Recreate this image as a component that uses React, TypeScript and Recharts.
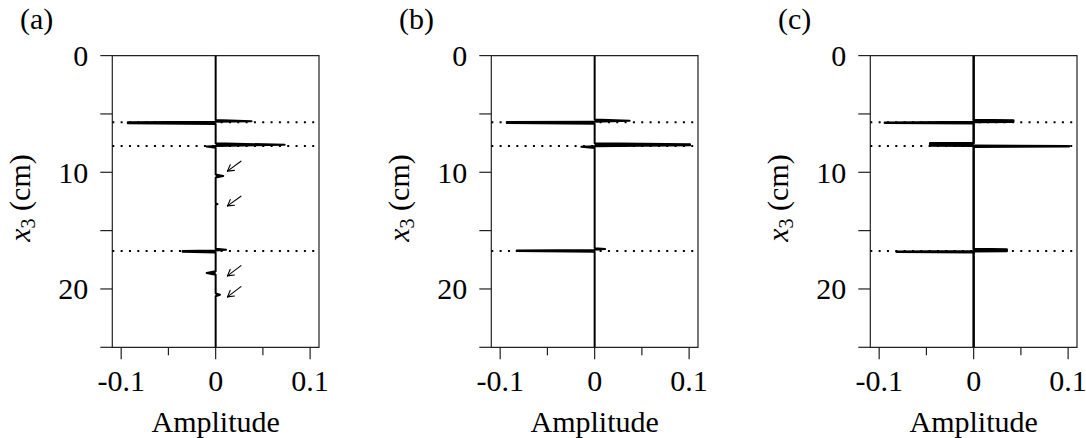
import React from 'react';
import { ComposedChart, Area, XAxis, YAxis, ReferenceLine, ReferenceArea } from 'recharts';

// ---------- data ----------
const panelLetters = ['(a)', '(b)', '(c)'];

// panel (a): depth (cm) and amplitude samples of the trace
const depthA = [0, 5.52, 5.62, 5.68, 5.72, 5.80, 5.86, 7.52, 7.64, 7.74, 7.80, 7.90, 10.18, 10.32, 10.46, 12.66, 12.73, 12.80, 16.55, 16.64, 16.70, 16.74, 16.82, 16.88, 18.48, 18.63, 18.78, 20.38, 20.50, 20.62, 25];
const ampA = [0, 0, 0.038, 0, -0.093, -0.093, 0, 0, 0.073, 0, -0.0095, 0, 0, 0.008, 0, 0, 0.002, 0, 0, 0.011, 0, -0.035, -0.035, 0, 0, -0.0095, 0, 0, 0.0045, 0, 0];

// panel (b)
const depthB = [0, 5.48, 5.58, 5.66, 5.70, 5.78, 5.84, 7.52, 7.60, 7.68, 7.76, 7.82, 7.92, 16.50, 16.58, 16.64, 16.66, 16.71, 16.75, 16.82, 25];
const ampB = [0, 0, 0.037, 0, -0.093, -0.093, 0, 0, 0.101, 0.101, 0, -0.014, 0, 0, 0.011, 0, 0, -0.0825, -0.0825, 0, 0];

// panel (c)
const depthC = [0, 5.52, 5.56, 5.68, 5.70, 5.75, 5.80, 7.48, 7.52, 7.70, 7.72, 7.77, 7.82, 16.58, 16.62, 16.74, 16.76, 16.81, 16.86, 25];
const ampC = [0, 0, 0.042, 0.042, 0, -0.094, 0, 0, -0.046, -0.046, 0, 0.101, 0, 0, 0.035, 0.035, 0, -0.0815, 0, 0];

// interface depths (dotted lines)
const reflectorDepths = [5.72, 7.74, 16.74];

// arrows in panel (a)
const arrowTailAmp = [0.0268, 0.0268, 0.0268, 0.0268];
const arrowTailDepth = [9.05, 12.05, 18.0, 19.8];
const arrowHeadAmp = [0.0125, 0.0125, 0.0125, 0.0125];
const arrowHeadDepth = [9.9, 12.88, 18.88, 20.68];

// axes
const xTicks = [-0.1, -0.05, 0, 0.05, 0.1];
const xTickLabels = ['-0.1', '', '0', '', '0.1'];
const yTicks = [0, 5, 10, 15, 20, 25];
const yTickLabels = ['0', '', '10', '', '20', ''];
const X_DOMAIN: [number, number] = [-0.1094, 0.1094];
const Y_DOMAIN: [number, number] = [0, 25];

const FONT = 'Liberation Serif';
const FONT_SIZE = 30;
const PANEL_STEP = 379;
const AXIS_COLOR = '#222';

// ---------- components ----------
const XTick = (props: any) => {
  const { x, y, payload } = props;
  const i = xTicks.findIndex((t) => Math.abs(t - payload.value) < 1e-9);
  const label = i >= 0 ? xTickLabels[i] : '';
  const minor = label === '';
  return (
    <g>
      <line x1={x} x2={x} y1={y} y2={y + (minor ? 8 : 12)} stroke={AXIS_COLOR} strokeWidth={1.2} />
      {!minor && (
        <text x={x} y={y + 43.5} textAnchor="middle" fontFamily={FONT} fontSize={FONT_SIZE} fill="#000">
          {label}
        </text>
      )}
    </g>
  );
};

const YTick = (props: any) => {
  const { x, y, payload } = props;
  const i = yTicks.findIndex((t) => Math.abs(t - payload.value) < 1e-9);
  const label = i >= 0 ? yTickLabels[i] : '';
  return (
    <g>
      <line x1={x - 12} x2={x} y1={y} y2={y} stroke={AXIS_COLOR} strokeWidth={1.2} />
      {label !== '' && (
        <text x={x - 24} y={y} dy="0.35em" textAnchor="end" fontFamily={FONT} fontSize={FONT_SIZE} fill="#000">
          {label}
        </text>
      )}
    </g>
  );
};

const ArrowShape = (props: any) => {
  const { x1, y1, x2, y2 } = props;
  const dx = x1 - x2;
  const dy = y1 - y2;
  const len = Math.hypot(dx, dy) || 1;
  const ux = dx / len;
  const uy = dy / len;
  const a = (30 * Math.PI) / 180;
  const h = 7;
  const r1x = ux * Math.cos(a) - uy * Math.sin(a);
  const r1y = ux * Math.sin(a) + uy * Math.cos(a);
  const r2x = ux * Math.cos(-a) - uy * Math.sin(-a);
  const r2y = ux * Math.sin(-a) + uy * Math.cos(-a);
  return (
    <g stroke="#000" strokeWidth={1.1} fill="none" strokeLinecap="round">
      <line x1={x1} y1={y1} x2={x2} y2={y2} />
      <line x1={x2} y1={y2} x2={x2 + r1x * h} y2={y2 + r1y * h} />
      <line x1={x2} y1={y2} x2={x2 + r2x * h} y2={y2 + r2y * h} />
    </g>
  );
};

type PanelProps = {
  index: number;
  depth: number[];
  amp: number[];
  traceWidth: number;
  withArrows?: boolean;
};

const Panel = ({ index, depth, amp, traceWidth, withArrows }: PanelProps) => {
  const data = depth.map((d, i) => ({ depth: d, amp: amp[i] }));
  return (
    <div style={{ position: 'absolute', left: index * PANEL_STEP, top: 0 }}>
      <ComposedChart
        width={330}
        height={438}
        layout="vertical"
        data={data}
        margin={{ top: 55.6, right: 11, bottom: 0.7, left: 0 }}
      >
        <XAxis
          type="number"
          domain={X_DOMAIN}
          allowDataOverflow
          ticks={xTicks}
          interval={0}
          axisLine={false}
          tickLine={false}
          tickSize={0}
          tickMargin={0}
          height={90}
          tick={(p: any) => <XTick {...p} />}
        />
        <YAxis
          type="number"
          dataKey="depth"
          domain={Y_DOMAIN}
          allowDataOverflow
          ticks={yTicks}
          interval={0}
          axisLine={false}
          tickLine={false}
          tickSize={0}
          tickMargin={0}
          width={112.3}
          tick={(p: any) => <YTick {...p} />}
        />
        <ReferenceArea
          x1={X_DOMAIN[0]}
          x2={X_DOMAIN[1]}
          y1={Y_DOMAIN[0]}
          y2={Y_DOMAIN[1]}
          ifOverflow="visible"
          fill="none"
          fillOpacity={0}
          stroke={AXIS_COLOR}
          strokeWidth={1.2}
        />
        {reflectorDepths.map((d) => (
          <ReferenceLine
            key={d}
            y={d}
            ifOverflow="visible"
            stroke="#000"
            strokeWidth={2}
            strokeDasharray="2 6.33"
          />
        ))}
        <Area
          type="linear"
          dataKey="amp"
          stroke="#000"
          strokeWidth={traceWidth}
          strokeLinejoin="round"
          fill="#000"
          fillOpacity={1}
          dot={false}
          activeDot={false}
          isAnimationActive={false}
        />
        {withArrows &&
          arrowTailDepth.map((d, i) => (
            <ReferenceLine
              key={'arr' + i}
              ifOverflow="visible"
              segment={[
                { x: arrowTailAmp[i], y: d },
                { x: arrowHeadAmp[i], y: arrowHeadDepth[i] },
              ]}
              shape={(p: any) => <ArrowShape {...p} />}
            />
          ))}
      </ComposedChart>
    </div>
  );
};

const htmlText: React.CSSProperties = {
  position: 'absolute',
  fontFamily: FONT,
  fontSize: FONT_SIZE,
  lineHeight: '36px',
  height: 36,
  whiteSpace: 'nowrap',
  color: '#000',
};

export default function App() {
  return (
    <div
      style={{
        position: 'absolute',
        left: 0,
        top: 0,
        width: 1086,
        height: 438,
        background: '#fff',
        overflow: 'hidden',
        fontFamily: FONT,
      }}
    >
      {panelLetters.map((l, i) => (
        <React.Fragment key={l}>
          <div style={{ ...htmlText, left: 20 + i * PANEL_STEP, top: 1 }}>{l}</div>
          <div
            style={{
              ...htmlText,
              left: 215.7 + i * PANEL_STEP - 100,
              top: 404,
              width: 200,
              textAlign: 'center',
            }}
          >
            Amplitude
          </div>
          <div
            style={{
              ...htmlText,
              left: 20 + i * PANEL_STEP - 100,
              top: 197.5 - 18,
              width: 200,
              textAlign: 'center',
              transform: 'rotate(-90deg)',
            }}
          >
            <span style={{ fontStyle: 'italic' }}>x</span>
            <span style={{ fontSize: 20, position: 'relative', top: 5 }}>3</span>
            <span> (cm)</span>
          </div>
        </React.Fragment>
      ))}
      <Panel index={0} depth={depthA} amp={ampA} traceWidth={2} withArrows />
      <Panel index={1} depth={depthB} amp={ampB} traceWidth={2} />
      <Panel index={2} depth={depthC} amp={ampC} traceWidth={2.5} />
    </div>
  );
}
